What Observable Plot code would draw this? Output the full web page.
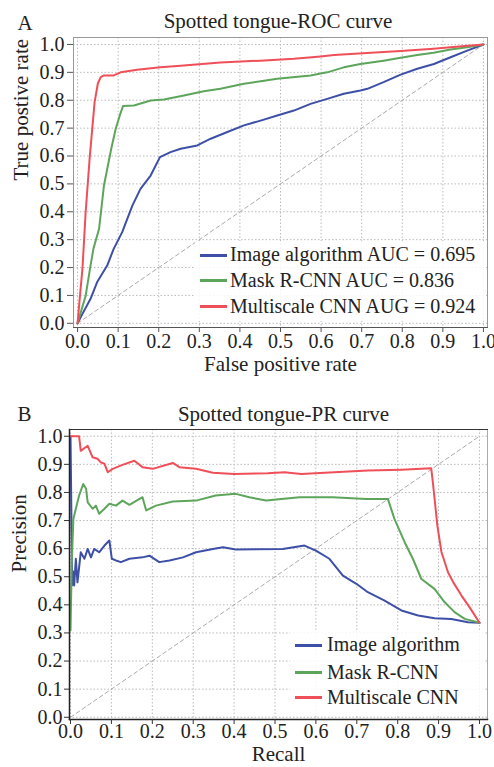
<!DOCTYPE html>
<html><head><meta charset="utf-8">
<script src="https://cdn.jsdelivr.net/npm/d3@7"></script>
<script src="https://cdn.jsdelivr.net/npm/@observablehq/plot@0.6"></script>
<style>
body{margin:0;background:#fff;}
#wrap{position:relative;width:494px;height:767px;overflow:hidden;font-family:"Liberation Serif","Times New Roman",serif;color:#222;}
#wrap svg{position:absolute;left:0;}
.leg{position:absolute;background:rgba(255,255,255,0.85);}
.sw{position:absolute;height:3px;width:27px;}
.lt{position:absolute;font-size:20px;line-height:20px;white-space:nowrap;}
</style></head><body><div id="wrap"></div>
<script>
// ---------- data ----------
const ticks = [0, 0.1, 0.2, 0.3, 0.4, 0.5, 0.6, 0.7, 0.8, 0.9, 1.0];
const diag = [0, 1];
const seriesNames = ["Image algorithm", "Mask R-CNN", "Multiscale CNN"];
const rocLegend = ["Image algorithm AUC = 0.695", "Mask R-CNN AUC = 0.836", "Multiscale CNN AUG = 0.924"];
const colors = ["#3d4fa6", "#5ea55c", "#ef4f58"];

// ROC: Image algorithm
const rocImgFpr = [0, .012, .032, .048, .073, .089, .11, .135, .155, .18, .203, .229, .254, .295, .328, .369, .41, .451, .492, .533, .574, .615, .656, .697, .714, .754, .796, .837, .878, .919, .96, 1.0];
const rocImgTpr = [0, .034, .088, .147, .207, .267, .327, .422, .482, .53, .596, .614, .626, .638, .662, .686, .71, .727, .745, .763, .787, .805, .823, .835, .841, .865, .892, .913, .93, .954, .978, 1.0];
// ROC: Mask R-CNN
const rocMaskFpr = [0, .01, .02, .03, .039, .053, .065, .083, .094, .105, .112, .139, .18, .213, .262, .311, .352, .41, .492, .574, .615, .656, .697, .754, .796, .837, .877, .919, .96, 1.0];
const rocMaskTpr = [0, .05, .099, .19, .267, .339, .494, .626, .698, .75, .779, .781, .799, .803, .817, .832, .841, .859, .877, .889, .9, .918, .93, .942, .952, .962, .97, .982, .99, 1.0];
// ROC: Multiscale CNN
const rocMultiFpr = [0, .006, .012, .02, .03, .042, .05, .057, .065, .089, .106, .147, .204, .254, .352, .45, .533, .599, .632, .713, .796, .877, .94, 1.0];
const rocMultiTpr = [0, .1, .195, .4, .596, .793, .86, .883, .889, .889, .9, .909, .918, .924, .935, .942, .949, .957, .962, .969, .977, .985, .993, 1.0];

// PR: Image algorithm
const prImgRecall = [0, .004, .006, .009, .013, .017, .025, .034, .042, .05, .058, .07, .083, .095, .101, .111, .123, .144, .176, .193, .217, .242, .275, .307, .348, .373, .404, .519, .572, .6, .633, .666, .699, .727, .768, .809, .85, .89, .931, .972, 1.0];
const prImgPrec = [1.0, .47, .52, .469, .564, .48, .587, .564, .599, .569, .599, .587, .611, .629, .564, .558, .552, .564, .569, .575, .552, .558, .569, .587, .599, .605, .597, .599, .611, .593, .564, .504, .475, .445, .415, .38, .362, .352, .35, .338, .336];
// PR: Mask R-CNN
const prMaskRecall = [0, .003, .007, .013, .021, .031, .038, .042, .054, .062, .07, .083, .095, .111, .127, .144, .176, .185, .209, .25, .307, .355, .404, .437, .478, .56, .641, .723, .776, .792, .817, .837, .858, .89, .915, .939, .964, 1.0];
const prMaskPrec = [.31, .55, .706, .742, .789, .83, .813, .765, .742, .753, .724, .742, .76, .753, .771, .756, .783, .736, .753, .768, .771, .789, .795, .783, .771, .783, .783, .777, .777, .706, .623, .564, .492, .457, .409, .374, .35, .336];
// PR: Multiscale CNN
const prMultiRecall = [0, .021, .025, .042, .054, .066, .074, .083, .091, .103, .127, .156, .176, .201, .25, .266, .307, .348, .4, .482, .523, .564, .645, .727, .809, .882, .886, .897, .907, .923, .936, .956, .976, 1.0];
const prMultiPrec = [1.0, 1.0, .948, .966, .925, .92, .907, .902, .872, .884, .898, .913, .89, .884, .905, .89, .884, .87, .866, .868, .872, .866, .872, .878, .881, .886, .836, .682, .588, .516, .48, .433, .391, .336];

// ---------- drawing ----------
const fmt = d3.format(".1f");
const font = '"Liberation Serif","Times New Roman",serif';
const wrap = document.getElementById("wrap");

function curve(xs, ys, color) {
  return Plot.line(ys, {x: xs, y: ys, stroke: color, strokeWidth: 2, strokeLinejoin: "round"});
}

const rocPlot = Plot.plot({
  width: 494, height: 385,
  marginTop: 37, marginBottom: 58, marginLeft: 73, marginRight: 7,
  x: {domain: [-0.01, 1.01]},
  y: {domain: [-0.015, 1.025]},
  style: {fontFamily: font, fontSize: "20px", color: "#222", background: "transparent", overflow: "visible"},
  marks: [
    Plot.gridX(ticks, {stroke: "#bbb", strokeOpacity: 1, strokeDasharray: "1.5,2"}),
    Plot.gridY(ticks, {stroke: "#bbb", strokeOpacity: 1, strokeDasharray: "1.5,2"}),
    Plot.line(diag, {x: d => d, y: d => d, stroke: "#aaa", strokeWidth: 1, strokeDasharray: "4,3"}),
    curve(rocImgFpr, rocImgTpr, colors[0]),
    curve(rocMaskFpr, rocMaskTpr, colors[1]),
    curve(rocMultiFpr, rocMultiTpr, colors[2]),
    Plot.frame({stroke: "#999"}),
    Plot.frame({anchor: "bottom", stroke: "#555"}),
    Plot.axisX(ticks, {tickSize: 5, tickPadding: 1, tickFormat: fmt, fontSize: 20, label: null, stroke: "#555"}),
    Plot.axisY(ticks, {tickSize: 6, tickPadding: 3, tickFormat: fmt, fontSize: 20, label: null, stroke: "#555"}),
    Plot.text(["Spotted tongue-ROC curve"], {frameAnchor: "top", text: d => d, dx: -2.5, dy: -10, lineAnchor: "bottom", fontSize: 21}),
    Plot.text(["A"], {frameAnchor: "top-left", text: d => d, textAnchor: "start", dx: -56, dy: -8, lineAnchor: "bottom", fontSize: 21}),
    Plot.text(["False positive rate"], {frameAnchor: "bottom", text: d => d, dy: 43, lineAnchor: "bottom", fontSize: 21}),
    Plot.text(["True postive rate"], {frameAnchor: "left", text: d => d, rotate: -90, dx: -46, dy: -2, lineAnchor: "bottom", fontSize: 21})
  ]
});
rocPlot.style.top = "0px";
wrap.appendChild(rocPlot);

const prPlot = Plot.plot({
  width: 494, height: 382,
  marginTop: 44, marginBottom: 48, marginLeft: 69, marginRight: 7,
  x: {domain: [-0.0025, 1.0196]},
  y: {domain: [-0.008, 1.024]},
  style: {fontFamily: font, fontSize: "20px", color: "#222", background: "transparent", overflow: "visible"},
  marks: [
    Plot.gridX(ticks, {stroke: "#bbb", strokeOpacity: 1, strokeDasharray: "1.5,2"}),
    Plot.gridY(ticks, {stroke: "#bbb", strokeOpacity: 1, strokeDasharray: "1.5,2"}),
    Plot.line(diag, {x: d => d, y: d => d, stroke: "#aaa", strokeWidth: 1, strokeDasharray: "4,3"}),
    curve(prImgRecall, prImgPrec, colors[0]),
    curve(prMaskRecall, prMaskPrec, colors[1]),
    curve(prMultiRecall, prMultiPrec, colors[2]),
    Plot.frame({stroke: "#aaa"}),
    Plot.frame({anchor: "left", stroke: "#222", strokeWidth: 1.5}),
    Plot.frame({anchor: "top", stroke: "#333"}),
    Plot.frame({anchor: "bottom", stroke: "#222", strokeWidth: 1.5}),
    Plot.axisX(ticks, {tickSize: 5, tickPadding: -1, tickFormat: fmt, fontSize: 20, label: null, stroke: "#333"}),
    Plot.axisY(ticks, {tickSize: 5, tickPadding: 2, tickFormat: fmt, fontSize: 20, label: null, stroke: "#333"}),
    Plot.text(["Spotted tongue-PR curve"], {frameAnchor: "top", text: d => d, dx: 5, dy: -8.3, lineAnchor: "bottom", fontSize: 21}),
    Plot.text(["B"], {frameAnchor: "top-left", text: d => d, textAnchor: "start", dx: -52, dy: -8.3, lineAnchor: "bottom", fontSize: 21}),
    Plot.text(["Recall"], {frameAnchor: "bottom", text: d => d, dy: 41, lineAnchor: "bottom", fontSize: 21}),
    Plot.text(["Precision"], {frameAnchor: "left", text: d => d, rotate: -90, dx: -44, dy: -2, lineAnchor: "bottom", fontSize: 21})
  ]
});
prPlot.style.top = "385px";
wrap.appendChild(prPlot);

// ---------- legends (HTML overlay) ----------
function legend(box, labels, swX, textX, rowYs) {
  const b = document.createElement("div");
  b.className = "leg";
  Object.assign(b.style, {left: box[0] + "px", top: box[1] + "px", width: box[2] + "px", height: box[3] + "px"});
  wrap.appendChild(b);
  labels.forEach((lab, i) => {
    const s = document.createElement("div");
    s.className = "sw";
    Object.assign(s.style, {left: swX + "px", top: (rowYs[i] - 1.5) + "px", background: colors[i]});
    wrap.appendChild(s);
    const t = document.createElement("div");
    t.className = "lt";
    t.textContent = lab;
    Object.assign(t.style, {left: textX + "px", top: (rowYs[i] + 6 - 16.75) + "px"});
    wrap.appendChild(t);
  });
}
legend([195, 241, 290, 80], rocLegend, 200, 230, [255, 280.7, 306.7]);
legend([290, 630, 195, 85], seriesNames, 295, 327, [645, 672.3, 697.7]);
</script>
</body></html>
